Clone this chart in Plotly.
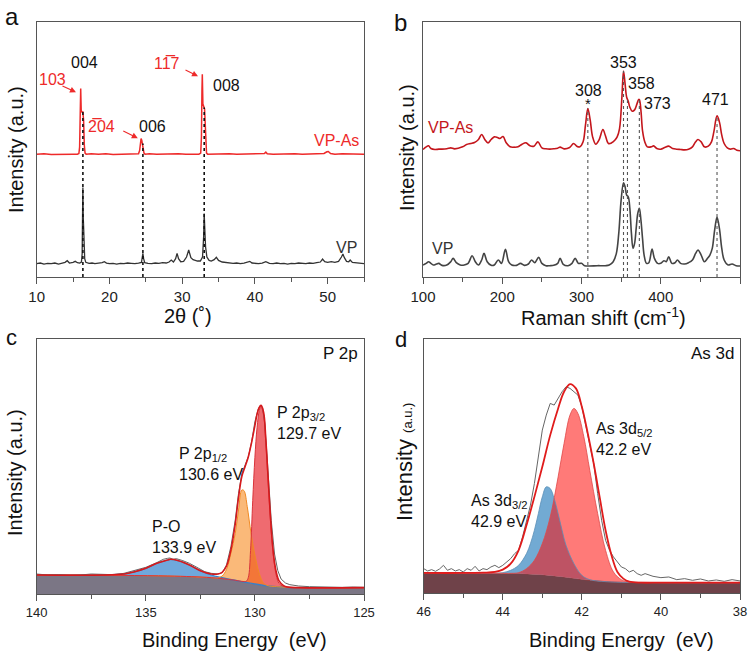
import plotly.graph_objects as go

FONT = "Arial, Liberation Sans, Helvetica, sans-serif"

# ---------------- Panel a : XRD (2theta, intensity a.u.) ----------------
xrd_vpas = [(10,369),(11,370),(12,368),(13,369),(14,370),(15,369),(15.6,369),(15.8,371),(15.9,390),(15.97,440),
            (16.05,566),(16.12,500),(16.2,496),(16.35,496),(16.45,470),(16.55,395),(16.65,372),(16.8,369),(17.5,370),
            (18.5,369),(19.5,370),(20.5,368),(21.5,369),(22.5,370),(23.5,369),(24.0,370),(24.15,380),(24.25,405),
            (24.35,416),(24.45,410),(24.55,400),(24.65,390),(24.75,372),(24.9,369),(25.5,370),(26.5,369),(27.5,370),
            (28.5,369),(29.5,370),(30.5,369),(31.5,370),(32.3,369),(32.55,372),(32.65,420),(32.72,560),(32.77,609),
            (32.85,520),(32.95,509),(33.08,505),(33.15,470),(33.25,390),(33.35,372),(33.5,369),(34.5,370),(35.5,369),
            (36.5,370),(37.5,369),(38.5,370),(39.5,369),(40.5,370),(41.3,371),(41.5,375),(41.7,370),(42.5,369),
            (43.5,370),(44.5,369),(45.5,370),(46.5,369),(47.5,370),(48.5,369),(49.5,371),(49.9,376),(50.1,377),
            (50.4,371),(51,369),(52,370),(53,369),(54,370),(55,369)]
xrd_vp = [(10,40),(10.5,42),(11,39),(11.5,41),(12,40),(12.5,42),(13,39),(13.5,41),(13.9,44),(14.2,49),(14.5,42),
          (15,44),(15.3,47),(15.6,43),(15.9,42),(16.15,45),(16.25,70),(16.31,200),(16.35,269),(16.4,180),(16.45,151),
          (16.52,90),(16.6,55),(16.75,44),(17.2,41),(17.6,42),(18,40),(18.5,42),(19,43),(19.3,46),(19.6,42),(20,40),
          (20.5,41),(21,39),(21.5,41),(22,40),(22.5,42),(23,41),(23.5,40),(24,42),(24.4,44),(24.52,60),(24.6,71),
          (24.7,55),(24.85,43),(25.3,41),(25.8,40),(26.3,42),(26.8,41),(27.3,43),(27.8,42),(28.2,45),(28.5,51),
          (28.8,45),(29.1,55),(29.3,71),(29.5,55),(29.8,46),(30.2,47),(30.6,60),(30.9,81),(31.2,58),(31.5,52),
          (31.8,50),(32.1,48),(32.5,48),(32.8,60),(32.95,120),(33.03,191),(33.12,140),(33.22,90),(33.4,60),
          (33.7,50),(34.0,48),(34.4,52),(34.7,59),(35.0,50),(35.5,45),(36,43),(36.5,42),(37,41),(37.5,42),(38,40),
          (38.5,42),(39,44),(39.3,47),(39.6,42),(40,41),(40.5,40),(41,42),(41.5,46),(42,41),(42.5,40),(43,42),
          (43.5,40),(44,41),(44.5,39),(45,41),(45.5,40),(46,42),(46.5,41),(47,40),(47.5,42),(48,41),(48.5,43),
          (49,45),(49.3,54),(49.6,46),(50,44),(50.5,46),(51,44),(51.5,47),(51.9,60),(52.1,69),(52.3,58),(52.6,47),
          (52.9,46),(53.1,51),(53.4,44),(54,42),(54.5,41),(55,40)]
xrd_ref_pos = [16.35, 24.6, 33.03]
xrd_ref_top = [496, 401, 509]

# ---------------- Panel b : Raman ----------------
raman_vpas = [(100,383),(104,391),(107,394),(110,386),(115,383),(120,384),(130,385),(135,388),(140,385),(150,391),
              (155,398),(160,401),(165,404),(170,413),(174,428),(178,413),(182,403),(186,413),(190,421),(194,419),
              (197,416),(201,422),(205,403),(210,391),(215,390),(220,391),(225,399),(230,403),(235,394),(240,393),
              (245,406),(250,388),(255,385),(260,384),(265,385),(270,387),(273,390),(278,385),(285,389),(290,401),
              (294,393),(298,391),(302,406),(305,456),(308,506),(311,471),(314,421),(318,399),(322,411),(327,443),
              (330,426),(334,401),(338,403),(342,411),(345,421),(348,446),(351,541),(353,619),(355,580),(357,540),
              (359,528),(361,510),(364,498),(367,502),(370,520),(372,533),(373,533),(375,500),(377,440),(380,405),
              (383,391),(388,391),(391,394),(395,386),(400,384),(405,389),(410,393),(415,386),(420,384),(425,383),
              (430,382),(435,384),(440,391),(444,406),(447,413),(451,406),(455,391),(460,393),(464,406),(467,436),
              (471,484),(474,466),(477,426),(480,401),(484,388),(488,384),(492,386),(496,381),(500,379)]
raman_vp = [(100,36),(104,41),(107,46),(110,41),(113,36),(117,39),(120,41),(124,35),(130,36),(135,46),(138,56),
            (142,43),(147,36),(152,36),(157,41),(162,64),(166,46),(170,36),(174,51),(177,71),(181,46),(186,35),
            (190,36),(195,51),(199,41),(204,83),(208,46),(212,36),(218,35),(223,41),(228,35),(233,39),(237,51),
            (241,43),(246,59),(250,41),(255,34),(260,34),(265,35),(270,41),(273,56),(277,38),(283,34),(288,41),
            (292,56),(296,41),(300,41),(304,34),(310,33),(320,34),(330,34),(335,36),(340,46),(344,71),(347,131),
            (350,231),(353,283),(355,271),(357,246),(359,241),(361,206),(363,131),(365,86),(367,101),(369,146),
            (371,191),(373,206),(375,171),(377,116),(379,66),(382,41),(385,43),(389,84),(392,56),(396,41),(400,41),
            (404,49),(407,46),(410,61),(414,41),(418,43),(421,51),(425,41),(430,39),(435,43),(440,51),(444,71),
            (447,81),(451,66),(455,46),(459,56),(462,66),(465,86),(468,141),(471,179),(474,146),(477,86),(480,51),
            (485,36),(490,39),(495,34),(500,33)]
raman_ref_pos = [308, 353, 358, 373, 471]
raman_ref_top = [506, 619, 531, 533, 484]

# ---------------- Panel c : XPS P 2p ----------------
p_bg = [(140,57),(136,56),(134,54),(133,52),(132,49),(131.5,46),(131,42),(130.5,36),(130,30),(129.5,25),(129,22),
        (128.5,20),(128,19),(125,19)]
p_po = [(140,57),(137,57),(136,60),(135.5,67),(135,77),(134.5,92),(134,102),(133.9,104),(133.5,100),(133,87),
        (132.5,70),(132,57),(131.5,49),(131,42),(130.5,36),(130,30),(129.5,25),(129,22),(128.5,20),(128,19),(125,19)]
p_2p12 = [(140,57),(134,54),(132,49),(131.9,48),(131.7,48),(131.5,54),(131.3,74),(131.1,122),(130.9,182),
          (130.75,252),(130.6,312),(130.5,310),(130.35,262),(130.2,192),(130.0,117),(129.8,62),(129.6,32),
          (129.4,25),(129,22),(128,19),(125,19)]
p_2p32 = [(140,57),(134,54),(132,49),(131,42),(130.6,38),(130.4,38),(130.3,50),(130.2,130),(130.1,280),(130.0,410),
          (129.9,500),(129.8,550),(129.72,564),(129.6,535),(129.5,455),(129.4,345),(129.3,235),(129.2,145),
          (129.1,85),(129.0,50),(128.9,32),(128.7,23),(128.5,20),(128,19),(125,19)]
p_env = [(140,57),(136,60),(135.5,67),(135,77),(134.5,92),(134,102),(133.9,104),(133.5,100),(133,87),(132.5,70),
         (132,60),(131.7,60),(131.5,65),(131.3,84),(131.1,132),(130.9,210),(130.75,290),(130.6,352),(130.45,382),
         (130.3,412),(130.15,455),(130.0,505),(129.9,540),(129.8,560),(129.72,566),(129.6,545),(129.5,465),
         (129.4,355),(129.3,245),(129.2,155),(129.1,95),(129.0,60),(128.9,40),(128.7,26),(128.5,21),(128,19),(125,19)]
p_raw = [(140,60),(139.5,57),(139,58),(138.5,56),(138,57),(137.5,60),(137,59),(136.5,58),(136,62),(135.5,70),
         (135,80),(134.5,94),(134.2,104),(134.0,107),(133.9,108),(133.75,104),(133.6,106),(133.3,100),(133,92),
         (132.6,78),(132.3,67),(132,62),(131.7,60),(131.5,64),(131.3,87),(131.1,142),(130.9,222),(130.75,302),
         (130.6,360),(130.45,387),(130.3,412),(130.15,457),(130.0,517),(129.85,554),(129.75,566),(129.65,560),
         (129.55,515),(129.45,420),(129.35,320),(129.25,220),(129.1,120),(128.95,70),(128.8,45),(128.6,33),
         (128.4,28),(128.2,25),(128,24),(127.5,22),(127,21),(126.5,22),(126,20),(125.5,21),(125,20)]

# ---------------- Panel d : XPS As 3d ----------------
as_bg = [(46,60),(44,59),(43.5,58),(43,55),(42.5,49),(42,41),(41.5,35),(41,32),(40,31),(38,31)]
as_3d32 = [(46,60),(44.2,59),(44.0,61),(43.8,68),(43.6,83),(43.4,118),(43.3,148),(43.2,188),(43.1,238),(43.0,288),
           (42.9,318),(42.8,313),(42.7,283),(42.6,238),(42.5,188),(42.4,143),(42.2,88),(42.0,53),(41.8,40),
           (41.5,35),(41,32),(40,31),(38,31)]
as_3d52 = [(46,60),(44,59),(43.8,59),(43.6,61),(43.4,73),(43.2,98),(43.0,148),(42.8,228),(42.6,348),(42.45,448),
           (42.3,533),(42.2,553),(42.1,538),(41.95,468),(41.8,368),(41.6,238),(41.4,128),(41.2,63),(41.0,40),
           (40.8,33),(40.5,32),(40,31),(38,31)]
as_env = [(46,60),(45,60),(44.5,61),(44.2,63),(44.0,70),(43.8,88),(43.6,128),(43.4,203),(43.2,288),(43.0,378),
          (42.8,473),(42.6,553),(42.45,603),(42.3,626),(42.15,613),(42.0,558),(41.85,478),(41.7,388),(41.55,288),
          (41.4,188),(41.25,113),(41.1,63),(40.95,43),(40.8,34),(40.5,31),(40,31),(38,31)]
as_raw = [(46,73),(45.9,66),(45.8,70),(45.7,65),(45.6,72),(45.5,83),(45.4,68),(45.3,73),(45.2,66),(45.1,70),
          (45.0,63),(44.9,73),(44.8,68),(44.7,80),(44.6,66),(44.5,73),(44.4,70),(44.3,78),(44.2,83),(44.1,76),
          (44.0,83),(43.9,93),(43.8,103),(43.7,118),(43.6,128),(43.5,168),(43.4,213),(43.3,263),(43.2,328),
          (43.1,408),(43.0,488),(42.9,533),(42.8,568),(42.7,563),(42.6,583),(42.5,603),(42.4,618),(42.3,613),
          (42.25,608),(42.2,603),(42.1,593),(42.0,558),(41.9,498),(41.8,438),(41.7,388),(41.6,298),(41.5,218),
          (41.4,158),(41.3,128),(41.2,108),(41.1,93),(41.0,78),(40.9,73),(40.8,63),(40.7,68),(40.6,58),(40.5,53),
          (40.4,58),(40.2,50),(40.0,46),(39.8,48),(39.6,40),(39.4,43),(39.2,38),(39.0,42),(38.8,36),(38.6,39),
          (38.4,35),(38.2,40),(38.0,36)]


def unzip(pairs):
    return [p[0] for p in pairs], [p[1] for p in pairs]


def poly(top, base):
    tx, ty = unzip(top)
    bx, by = unzip(base)
    return tx + bx[::-1], ty + by[::-1]


def vlines(pos, top):
    xs, ys = [], []
    for p, t in zip(pos, top):
        xs += [p, p, None]
        ys += [0, t, None]
    return xs, ys


fig = go.Figure()


def line(pairs, color, width, ax, shape='linear', dash=None):
    x, y = unzip(pairs)
    fig.add_trace(go.Scatter(x=x, y=y, mode='lines', xaxis='x' + ax, yaxis='y' + ax,
                             line=dict(color=color, width=width, shape=shape, dash=dash),
                             hoverinfo='skip', showlegend=False))


# ---- a
line(xrd_vp, '#333333', 1.3, '')
line(xrd_vpas, '#ee2a2a', 1.5, '')
vx, vy = vlines(xrd_ref_pos, xrd_ref_top)
fig.add_trace(go.Scatter(x=vx, y=vy, mode='lines', xaxis='x', yaxis='y',
                         line=dict(color='#111111', width=1.6, dash='dot'), showlegend=False, hoverinfo='skip'))

# ---- b
line(raman_vp, '#444444', 1.6, '2', 'spline')
line(raman_vpas, '#c4161c', 1.6, '2', 'spline')
vx, vy = vlines(raman_ref_pos, raman_ref_top)
fig.add_trace(go.Scatter(x=vx, y=vy, mode='lines', xaxis='x2', yaxis='y2',
                         line=dict(color='#555555', width=1.1, dash='dot'), showlegend=False, hoverinfo='skip'))

# ---- c
bx, by = unzip(p_bg)
fig.add_trace(go.Scatter(x=bx, y=by, mode='lines', xaxis='x3', yaxis='y3', fill='tozeroy',
                         fillcolor='#7b7685', line=dict(color='#7b7685', width=0.5, shape='spline'),
                         showlegend=False, hoverinfo='skip'))
for comp, col in [(p_po, '#6fa8dc'), (p_2p32, '#ef6b70'), (p_2p12, 'rgba(246,128,11,0.55)')]:
    pxs, pys = poly(comp, p_bg)
    fig.add_trace(go.Scatter(x=pxs, y=pys, mode='lines', xaxis='x3', yaxis='y3', fill='toself',
                             fillcolor=col, line=dict(width=0, shape='spline'),
                             showlegend=False, hoverinfo='skip'))
line(p_po, '#3a7fc6', 1.3, '3', 'spline')
line(p_2p12, '#f08a24', 1.0, '3', 'spline')
line(p_2p32, '#d8343b', 1.0, '3', 'spline')
line(p_raw, '#666666', 1.0, '3')
line(p_env, '#d7191c', 1.6, '3', 'spline')

# ---- d
bx, by = unzip(as_bg)
fig.add_trace(go.Scatter(x=bx, y=by, mode='lines', xaxis='x4', yaxis='y4', fill='tozeroy',
                         fillcolor='#6f4249', line=dict(color='#b03a3a', width=0.8, shape='spline'),
                         showlegend=False, hoverinfo='skip'))
for comp, col in [(as_3d32, '#72aad3'), (as_3d52, 'rgba(255,10,5,0.54)')]:
    pxs, pys = poly(comp, as_bg)
    fig.add_trace(go.Scatter(x=pxs, y=pys, mode='lines', xaxis='x4', yaxis='y4', fill='toself',
                             fillcolor=col, line=dict(width=0, shape='spline'),
                             showlegend=False, hoverinfo='skip'))
line(as_3d32, '#5b8fb8', 0.8, '4', 'spline')
line(as_3d52, '#e04848', 0.8, '4', 'spline')
line(as_raw, '#666666', 1.0, '4')
line(as_env, '#e01b1b', 1.8, '4', 'spline')

# ---------------- layout ----------------
AX = dict(showline=True, mirror=True, linecolor='#555555', linewidth=1.2, showgrid=False, zeroline=False)


def xax(dom, anchor, rng, dtick, mdtick, fs):
    return dict(AX, domain=dom, anchor=anchor, range=rng, dtick=dtick, ticks='outside', ticklen=6,
                tickwidth=1.1, tickcolor='#555555', automargin=False,
                minor=dict(dtick=mdtick, ticks='outside', ticklen=4, tickwidth=1.1, tickcolor='#555555'),
                tickfont=dict(family=FONT, size=fs, color='#222222'))


def yax(dom, anchor, rng):
    return dict(AX, domain=dom, anchor=anchor, range=rng, showticklabels=False, ticks='', automargin=False)


W, H = 752, 657


def px(x):
    return x / W


def py(y):
    return 1 - y / H


fig.update_layout(
    width=W, height=H, margin=dict(l=0, r=0, t=0, b=0, pad=0, autoexpand=False),
    paper_bgcolor='white', plot_bgcolor='white', showlegend=False,
    font=dict(family=FONT, color='#111111'),
    xaxis=xax([px(36.7), px(364)], 'y', [10, 55], 10, 5, 15),
    yaxis=yax([py(277), py(22)], 'x', [0, 766]),
    xaxis2=xax([px(423), px(740)], 'y2', [100, 500], 100, 50, 15),
    yaxis2=yax([py(277), py(22)], 'x2', [0, 766]),
    xaxis3=xax([px(36.7), px(364)], 'y3', [140, 125], 5, 2.5, 13),
    yaxis3=yax([py(594), py(339)], 'x3', [0, 765]),
    xaxis4=xax([px(423.7), px(740)], 'y4', [46, 38], 2, 1, 13),
    yaxis4=yax([py(593), py(339)], 'x4', [0, 761]),
)

ann = []


def txt(text, x, y, xref, yref, size, color='#111111', xanchor='center', yanchor='middle', angle=0, align='center'):
    ann.append(dict(text=text, x=x, y=y, xref=xref, yref=yref, showarrow=False, textangle=angle,
                    xanchor=xanchor, yanchor=yanchor, align=align,
                    font=dict(family=FONT, size=size, color=color)))


def arrow(x, y, axp, ayp, xref, yref, color):
    ann.append(dict(text='', x=x, y=y, xref=xref, yref=yref, ax=axp, ay=ayp, showarrow=True,
                    arrowhead=2, arrowsize=1, arrowwidth=1.2, arrowcolor=color))


RED_A = '#ee2a2a'
RED_B = '#c4161c'

# panel labels
txt('a', px(12), py(16), 'paper', 'paper', 24)
txt('b', px(400), py(23), 'paper', 'paper', 24)
txt('c', px(12), py(337), 'paper', 'paper', 22)
txt('d', px(401), py(339), 'paper', 'paper', 22)

# axis titles
txt('Intensity (a.u.)', px(16), py(150), 'paper', 'paper', 20, angle=-90)
txt('2θ (˚)', px(188), py(316), 'paper', 'paper', 20)
txt('Intensity (a.u.)', px(407), py(148), 'paper', 'paper', 20, angle=-90)
txt('Raman shift (cm<sup>-1</sup>)', px(603), py(316), 'paper', 'paper', 20)
txt('Intensity (a.u.)', px(15), py(473), 'paper', 'paper', 20, angle=-90)
txt('Binding Energy\u00a0 (eV)', px(234), py(640), 'paper', 'paper', 20)
txt("Intensity <span style='font-size:13px'>(a.u.)</span>", px(404), py(462), 'paper', 'paper', 22, angle=-90)
txt('Binding Energy\u00a0 (eV)', px(621), py(640), 'paper', 'paper', 20)

# panel a labels
txt('004', 16.6, 645, 'x', 'y', 16)
txt('103', 12.24, 594, 'x', 'y', 16, RED_A)
txt('2\u030504', 18.97, 453, 'x', 'y', 16, RED_A)
txt('006', 25.98, 453, 'x', 'y', 16)
txt('11\u03057', 27.9, 642, 'x', 'y', 16, RED_A)
txt('008', 36.15, 576, 'x', 'y', 16)
txt('VP-As', 51.25, 411, 'x', 'y', 16, RED_A)
txt('VP', 52.6, 90, 'x', 'y', 16, '#333333')
arrow(15.4, 555, -15, -7, 'x', 'y', RED_A)
arrow(23.9, 417, -16, -8, 'x', 'y', RED_A)
arrow(32.18, 603, -14, -7, 'x', 'y', RED_A)

# panel b labels
txt('308', 308.2, 560, 'x2', 'y2', 16)
txt('*', 308, 520, 'x2', 'y2', 15)
txt('353', 353.6, 645, 'x2', 'y2', 16)
txt('358', 375.1, 582, 'x2', 'y2', 16)
txt('373', 395.3, 522, 'x2', 'y2', 16)
txt('471', 469.7, 534, 'x2', 'y2', 16)
txt('VP-As', 135.3, 450, 'x2', 'y2', 16, RED_B)
txt('VP', 125.2, 87, 'x2', 'y2', 16, '#333333')

# panel c labels
txt('P 2p', 125.2, 723, 'x3', 'y3', 17, xanchor='right')
txt('P 2p<sub>3/2</sub><br>129.7 eV', 129.09, 514, 'x3', 'y3', 16, xanchor='left', align='left')
txt('P 2p<sub>1/2</sub><br>130.6 eV', 133.58, 390, 'x3', 'y3', 16, xanchor='left', align='left')
txt('P-O<br>133.9 eV', 134.81, 170, 'x3', 'y3', 16, xanchor='left', align='left')

# panel d labels
txt('As 3d', 38.1, 719, 'x4', 'y4', 17, xanchor='right')
txt('As 3d<sub>5/2</sub><br>42.2 eV', 41.69, 461, 'x4', 'y4', 16, xanchor='left', align='left')
txt('As 3d<sub>3/2</sub><br>42.9 eV', 44.86, 245, 'x4', 'y4', 16, xanchor='left', align='left')

fig.update_layout(annotations=ann)
fig.write_html("out.html")
